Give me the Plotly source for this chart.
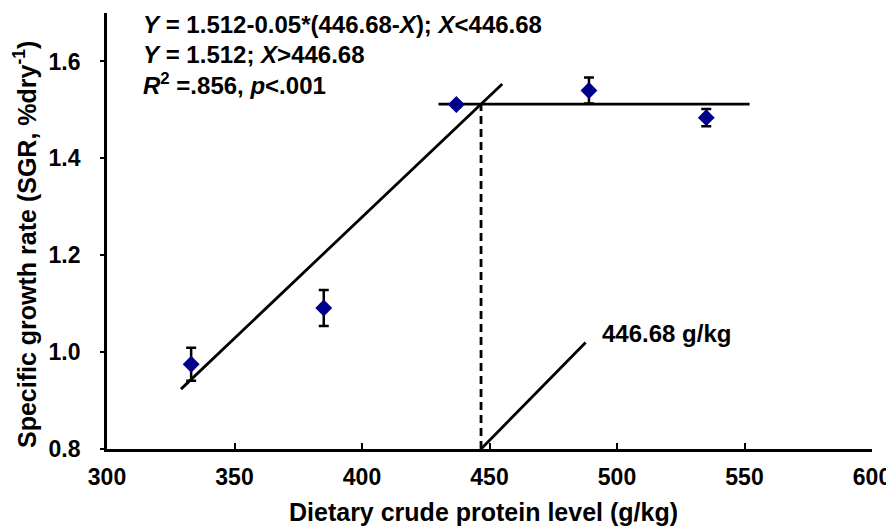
import plotly.graph_objects as go

# Data
protein = [333, 385, 437, 489, 535]          # dietary crude protein (g/kg)
sgr = [0.975, 1.091, 1.511, 1.540, 1.484]    # SGR (%/day)
sgr_err = [0.034, 0.037, 0.005, 0.027, 0.018]

# Broken-line model (as drawn)
breakpoint = 446.68
plateau = 1.512
slope = 0.005
slope_x = [329, 455]
plateau_x = [430, 552]

x_ticks = [300, 350, 400, 450, 500, 550, 600]
y_ticks = [0.8, 1.0, 1.2, 1.4, 1.6]

FONT = "Liberation Sans, Arial, sans-serif"
LW = 2.8

# page body adds an 8px offset; plot area (screen px): left 107, right 872, top 13, bottom 449
OFF = 8
PL, PR, PT, PB = 107, 872, 13, 449
W, H = 894 - OFF, 530 - OFF


def px_x(px):
    return (px - PL) / (PR - PL)


def px_y(py):
    return 1 - (py - PT) / (PB - PT)


fig = go.Figure()

fig.add_trace(go.Scatter(
    x=slope_x, y=[plateau - slope * (breakpoint - x) for x in slope_x],
    mode="lines", line=dict(color="black", width=LW), showlegend=False, hoverinfo="skip"))
fig.add_trace(go.Scatter(
    x=plateau_x, y=[plateau, plateau],
    mode="lines", line=dict(color="black", width=LW), showlegend=False, hoverinfo="skip"))
fig.add_trace(go.Scatter(
    x=[breakpoint, breakpoint], y=[0.8, plateau],
    mode="lines", line=dict(color="black", width=LW, dash="8px,5px"), showlegend=False, hoverinfo="skip"))
fig.add_trace(go.Scatter(
    x=[breakpoint, 487.7], y=[0.8, 1.02],
    mode="lines", line=dict(color="black", width=LW), showlegend=False, hoverinfo="skip"))
fig.add_trace(go.Scatter(
    x=protein, y=sgr, mode="markers",
    marker=dict(symbol="diamond", size=13, color="#00008B"),
    error_y=dict(type="data", array=sgr_err, color="black", thickness=2.5, width=5),
    showlegend=False))

fig.add_annotation(x=px_x(600), y=px_y(333), xref="paper", yref="paper",
                   xanchor="left", yanchor="middle",
                   text="446.68 g/kg", showarrow=False,
                   font=dict(family=FONT, size=24, color="black", weight="bold"))

eq_lines = [
    "<i>Y</i> = 1.512-0.05*(446.68-<i>X</i>); <i>X</i>&lt;446.68",
    "<i>Y</i> = 1.512; <i>X</i>&gt;446.68",
    "<i>R</i><sup>2</sup> =.856, <i>p</i>&lt;.001",
]
eq_px = [24, 54, 84]
for t, py in zip(eq_lines, eq_px):
    fig.add_annotation(x=px_x(141), y=px_y(py), xref="paper", yref="paper",
                       xanchor="left", yanchor="middle", text=t, showarrow=False,
                       font=dict(family=FONT, size=24, color="black", weight="bold"))

# axis titles placed as annotations
fig.add_annotation(x=px_x(25), y=px_y(245), xref="paper", yref="paper",
                   xanchor="center", yanchor="middle", textangle=-90,
                   text="Specific growth rate (SGR, %dry<sup>-1</sup>)", showarrow=False,
                   font=dict(family=FONT, size=25, color="black", weight="bold"))
fig.add_annotation(x=px_x(483), y=px_y(512), xref="paper", yref="paper",
                   xanchor="center", yanchor="middle",
                   text="Dietary crude protein level (g/kg)", showarrow=False,
                   font=dict(family=FONT, size=25, color="black", weight="bold"))

fig.update_layout(
    width=W, height=H,
    margin=dict(l=PL - OFF, r=W - (PR - OFF), t=PT - OFF, b=H - (PB - OFF), autoexpand=False),
    plot_bgcolor="white", paper_bgcolor="white",
    font=dict(family=FONT, size=23, color="black", weight="bold"),
    xaxis=dict(range=[300, 600], tickvals=x_ticks, ticks="inside", ticklen=6, tickwidth=2,
               tickcolor="black", showline=True, linecolor="black", linewidth=LW,
               showgrid=False, zeroline=False, ticklabelstandoff=5,
               tickfont=dict(family=FONT, size=23, weight="bold")),
    yaxis=dict(range=[0.8, 1.7], tickvals=y_ticks, tickformat=".1f", ticks="outside", ticklen=4,
               tickwidth=2, tickcolor="black", showline=True, linecolor="black", linewidth=LW,
               showgrid=False, zeroline=False, ticklabelstandoff=15,
               tickfont=dict(family=FONT, size=23, weight="bold")),
)

fig.write_html("out.html")
